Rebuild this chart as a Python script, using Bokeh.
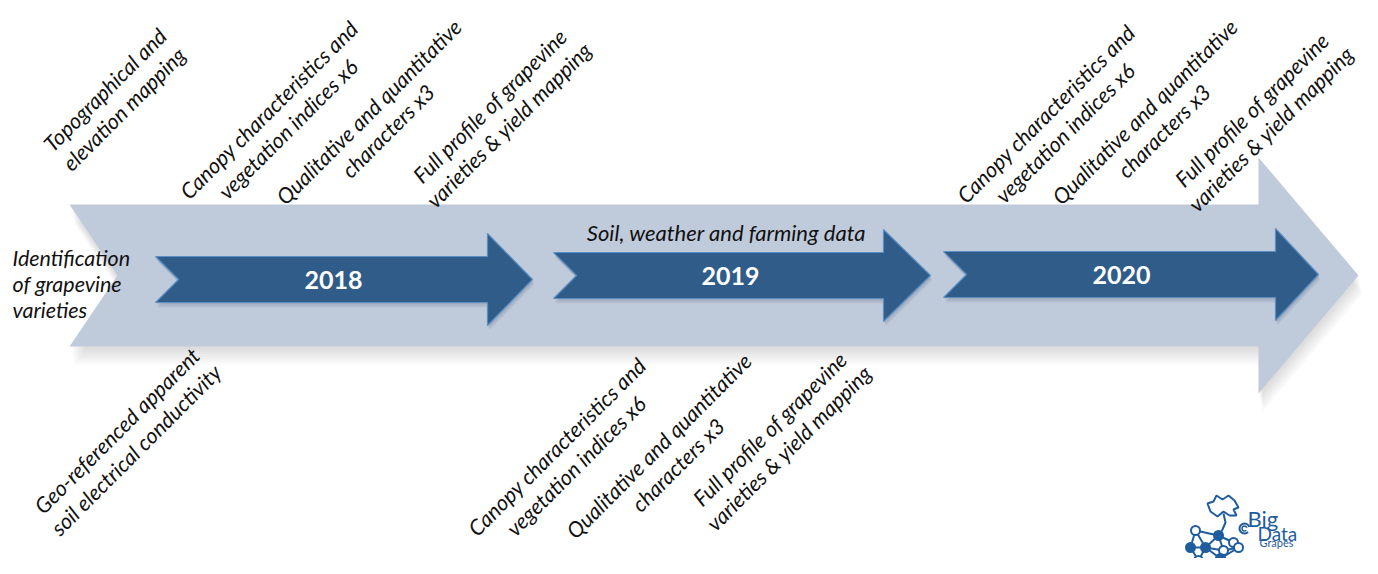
import numpy as np
from bokeh.plotting import figure
from bokeh.models import Range1d
from bokeh.embed import file_html
from bokeh.resources import INLINE
from bokeh.core.properties import value

# ---------------- content ----------------
years = ["2018", "2019", "2020"]
start_label = ["Identification", "of grapevine", "varieties"]
band_label = "Soil, weather and farming data"
upper_labels = [
    ["Topographical and", "elevation mapping"],
    ["Canopy characteristics and", "vegetation indices x6"],
    ["Qualitative and quantitative", "characters x3"],
    ["Full profile of grapevine", "varieties & yield mapping"],
    ["Canopy characteristics and", "vegetation indices x6"],
    ["Qualitative and quantitative", "characters x3"],
    ["Full profile of grapevine", "varieties & yield mapping"],
]
lower_labels = [
    ["Geo-referenced apparent", "soil electrical conductivity"],
    ["Canopy characteristics and", "vegetation indices x6"],
    ["Qualitative and quantitative", "characters x3"],
    ["Full profile of grapevine", "varieties & yield mapping"],
]
logo_words = ["Big", "Data", "Grapes"]

# ---------------- layout (pixel space of the picture) ----------------
upper_pos = [(114, 99), (278, 119), (378, 121), (499, 115),
             (1055, 123), (1154, 121), (1261, 119)]
lower_pos = [(126, 440), (566, 456), (668, 455), (779, 438)]
year_arrows = [(155, 487, 532, 279), (553, 883, 930, 275), (943, 1275, 1318, 274)]
LIGHT = "#bfcadb"
DARK = "#305c89"
EDGE = "#5b8fc4"
TXT = "#111111"
FONT = "Lato"
LABEL_SIZE = "21.5px"

W, H = 1362, 558
p = figure(width=W, height=H, x_range=Range1d(0, W), y_range=Range1d(H, 0),
           output_backend="svg", toolbar_location=None, min_border=0)
p.axis.visible = False
p.grid.visible = False
p.outline_line_color = None
p.background_fill_color = "white"
p.border_fill_color = "white"


def arrow(x0, notch, xh, xt, yc, hs, hh):
    xs = [x0, xh, xh, xt, xh, xh, x0, x0 + notch]
    ys = [yc - hs, yc - hs, yc - hh, yc, yc + hh, yc + hs, yc + hs, yc]
    return xs, ys


# big light arrow with soft shadow
bx, by = arrow(69, 48, 1258, 1358, 275, 71, 118)
for k in range(1, 8):
    p.patch([x + k * 0.6 for x in bx], [y + k * 2.6 for y in by],
            fill_color="#7a7a7a", fill_alpha=0.035, line_color=None)
p.patch(bx, by, fill_color=LIGHT, line_color=None)

# year arrows
for (x0, xh, xt, yc), yr in zip(year_arrows, years):
    ax, ay = arrow(x0, 23, xh, xt, yc, 23, 46)
    for k in range(1, 4):
        p.patch([x + k * 0.6 for x in ax], [y + k * 1.6 for y in ay],
                fill_color="#1c2c40", fill_alpha=0.07, line_color=None)
    p.patch(ax, ay, fill_color=DARK, line_color=EDGE, line_width=1.2)
    p.text(x=[(x0 + xh) / 2 + 12], y=[yc], text=[yr], text_color="white",
           text_font=value(FONT), text_font_style="bold", text_font_size="25px",
           text_align="center", text_baseline="middle")

# identification text
p.text(x=[12] * 3, y=[257, 283, 309], text=start_label, text_color=TXT,
       text_font=value(FONT), text_font_style="italic", text_font_size=LABEL_SIZE,
       text_align="left", text_baseline="alphabetic")

# band text
p.text(x=[726], y=[232], text=[band_label], text_color=TXT,
       text_font=value(FONT), text_font_style="italic", text_font_size="22px",
       text_align="center", text_baseline="alphabetic")

# rotated labels
ang = np.pi / 4
spacing = 27.0
d = np.sqrt(0.5)


def rotated(labels, positions):
    xs, ys, ts = [], [], []
    for lines, (cx, cy) in zip(labels, positions):
        n = len(lines)
        for i, t in enumerate(lines):
            off = (i - (n - 1) / 2) * spacing
            xs.append(cx + off * d)
            ys.append(cy + off * d)
            ts.append(t)
    p.text(x=xs, y=ys, text=ts, angle=ang, text_color=TXT,
           text_font=value(FONT), text_font_style="italic", text_font_size=LABEL_SIZE,
           text_align="center", text_baseline="middle")


rotated(upper_labels, upper_pos)
rotated(lower_labels, lower_pos)

# ---------------- logo ----------------
LOGO = "#1f5d9e"
nodes_x = [1195, 1218, 1233, 1190, 1205, 1223, 1238, 1198, 1220, 1207]
nodes_y = [530, 535, 542, 547, 547, 550, 547, 560, 558, 568]
filled = [False, True, False, True, True, False, False, False, True, False]
edges = [(0, 1), (0, 3), (0, 4), (1, 2), (1, 4), (1, 5), (2, 6), (3, 4), (3, 7),
         (4, 5), (4, 7), (5, 6), (5, 8), (7, 9), (8, 9), (6, 8), (4, 8)]
p.segment(x0=[nodes_x[a] for a, b in edges], y0=[nodes_y[a] for a, b in edges],
          x1=[nodes_x[b] for a, b in edges], y1=[nodes_y[b] for a, b in edges],
          line_color=LOGO, line_width=2)
p.scatter(x=nodes_x, y=nodes_y, size=9,
          fill_color=[LOGO if f else "white" for f in filled],
          line_color=LOGO, line_width=2)
# leaf + stem
leaf_x = [1210, 1207, 1213, 1216, 1222, 1228, 1234, 1238, 1233, 1236, 1229, 1223, 1217, 1210]
leaf_y = [511, 503, 501, 495, 499, 495, 500, 507, 509, 515, 515, 511, 516, 511]
p.patch(leaf_x, leaf_y, fill_color="white", line_color=LOGO, line_width=2)
p.line([1223, 1225, 1222, 1218], [513, 522, 529, 535], line_color=LOGO, line_width=2)
p.arc(x=[1244], y=[528], radius=5, start_angle=0.3, end_angle=5.5,
      line_color=LOGO, line_width=2)
p.arc(x=[1244], y=[528], radius=2.5, start_angle=0.3, end_angle=5.5,
      line_color=LOGO, line_width=1.5)
p.text(x=[1247, 1257, 1259], y=[518, 533, 542], text=logo_words, text_color=LOGO,
       text_font=value(FONT), text_font_size=["22px", "19px", "11px"],
       text_align="left", text_baseline="alphabetic")

open("out.html", "w").write(file_html(p, INLINE))
